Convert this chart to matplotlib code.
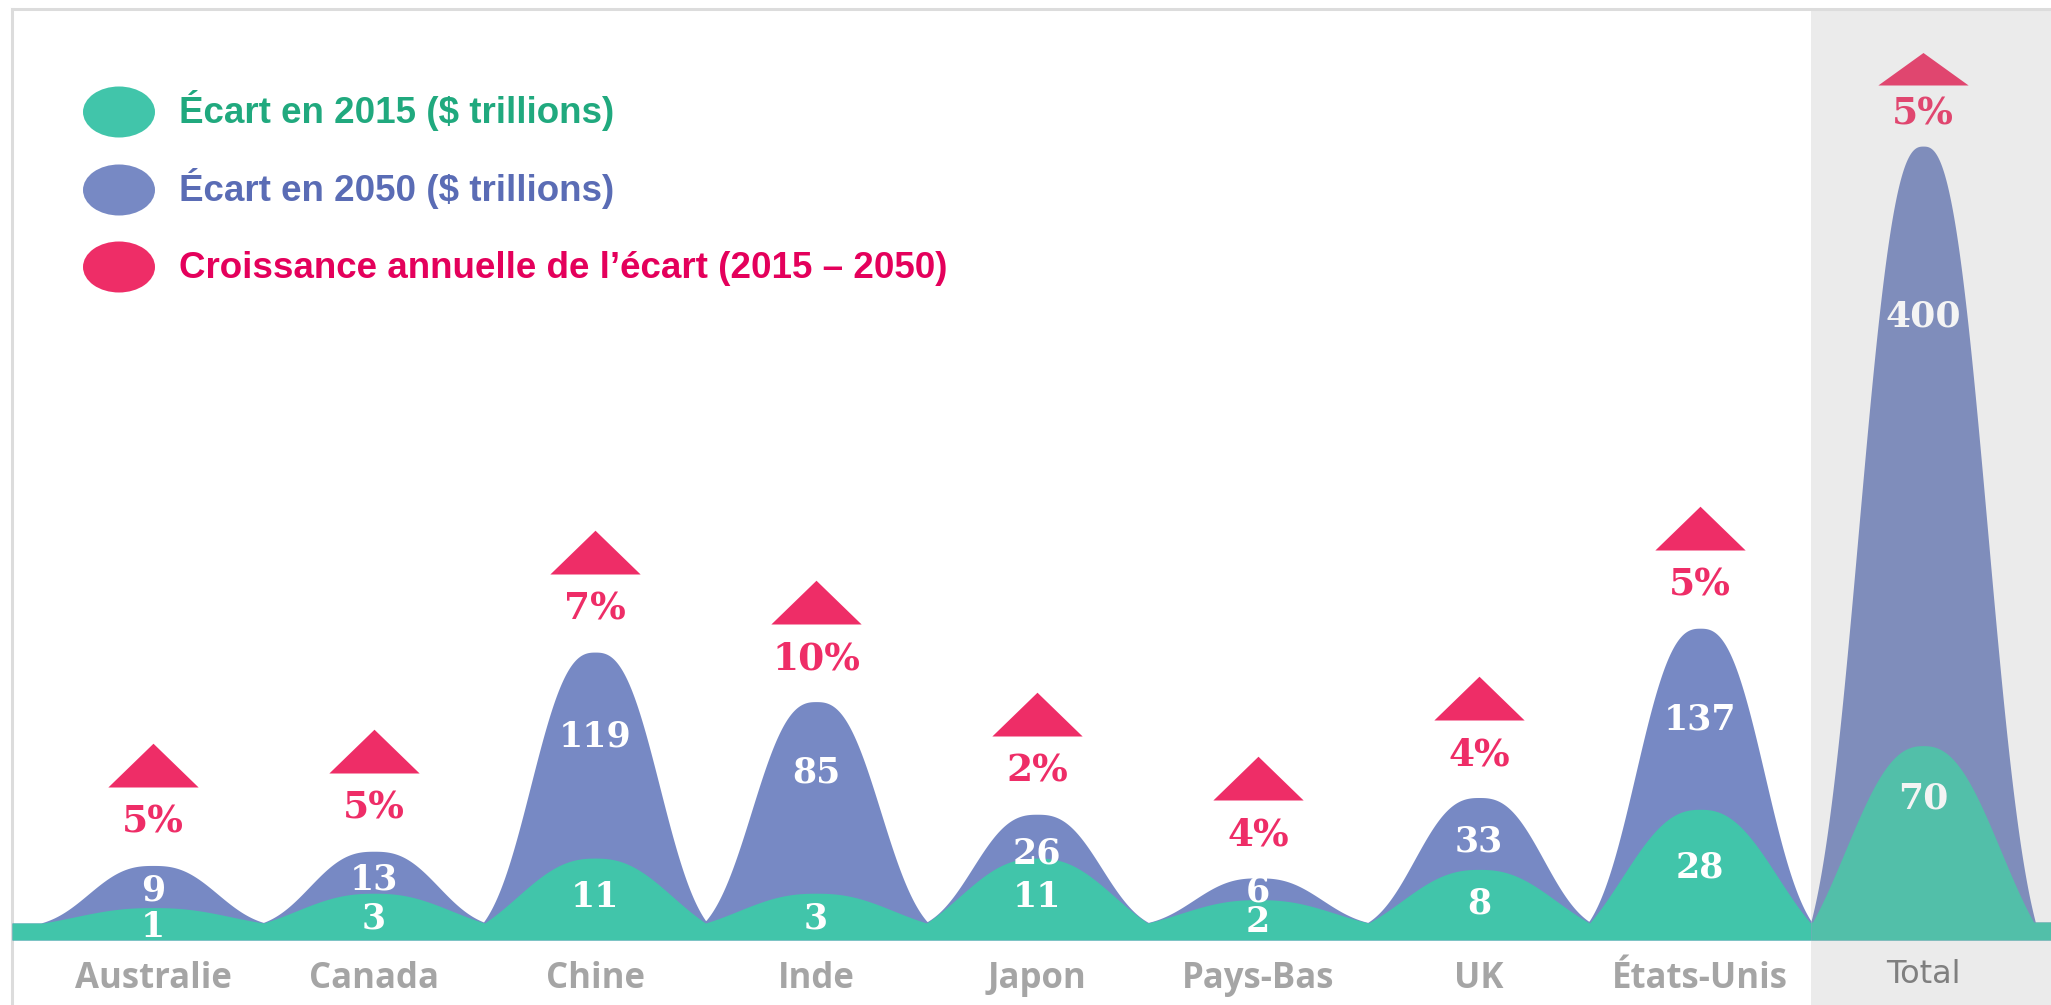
import numpy as np
import matplotlib
matplotlib.use("Agg")
import matplotlib.pyplot as plt
from matplotlib.patches import Ellipse, Rectangle
from matplotlib.lines import Line2D
from matplotlib.path import Path
from matplotlib.transforms import ScaledTranslation
from matplotlib.font_manager import FontProperties

# ---------------- data ----------------
countries = ["Australie", "Canada", "Chine", "Inde", "Japon", "Pays-Bas", "UK", "États-Unis"]
gap_2015 = [1, 3, 11, 3, 11, 2, 8, 28]          # $ trillions
gap_2050 = [9, 13, 119, 85, 26, 6, 33, 137]     # $ trillions
growth_pct = [5, 5, 7, 10, 2, 4, 4, 5]          # annual growth of gap, %

total_label = ["Total"]
total_2015 = [70]
total_2050 = [400]
total_growth = [5]

legend_labels = ["Écart en 2015 ($ trillions)",
                 "Écart en 2050 ($ trillions)",
                 "Croissance annuelle de l’écart (2015 – 2050)"]

# ---------------- style ----------------
W, H = 2051, 1005
GREEN, PURPLE, PINK = "#41C5AA", "#7789C4", "#EE2D67"
GREEN_T, PURPLE_T, PINK_T = "#52BFA9", "#7F8DBB", "#E0466F"
PANEL_GRAY = "#EBEBEB"
NUM_FONT = dict(family="DejaVu Serif", weight="bold")

fig = plt.figure(figsize=(W / 100, H / 100), dpi=100)
fig.patch.set_facecolor("white")


def power_funcs(p):
    def fwd(v):
        v = np.asarray(v, dtype=float)
        return np.sign(v) * np.abs(v) ** p

    def inv(t):
        t = np.asarray(t, dtype=float)
        return np.sign(t) * np.abs(t) ** (1.0 / p)
    return fwd, inv


def bump(x, centers, values, sigma, expo, shift, fwd, inv):
    a = shift * np.exp(-0.5 * (0.5 / sigma) ** expo)
    t = np.zeros_like(x)
    for c, v in zip(centers, values):
        g = (np.exp(-0.5 * np.abs((x - c) / sigma) ** expo) - a) / (1 - a)
        t = np.maximum(t, fwd(v) * np.clip(g, 0, None))
    return inv(t)


def draw_panel(ax, labels, v15, v50, growth, power, ylim, xlim,
               cg, cp, cpk, fp, gp, txt_off, tri_off, tri_h, num_size,
               num_color, lab_font, lab_color, lab_pad):
    fwd, inv = power_funcs(power)
    ax.set_yscale("function", functions=(fwd, inv))
    ax.set_xlim(*xlim)
    ax.set_ylim(*ylim)
    ax.patch.set_visible(False)
    for s in ax.spines.values():
        s.set_visible(False)
    centers = np.arange(len(labels))
    x = np.linspace(xlim[0], xlim[1], 3000)
    y50 = bump(x, centers, v50, 0.27, 2.6, 0.9, fwd, inv)
    y15 = bump(x, centers, v15, 0.33, 2.4, 1.0, fwd, inv)
    ax.fill_between(x, ylim[0], y50, color=cp, lw=0, zorder=2)
    ax.fill_between(x, ylim[0], y15, color=cg, lw=0, zorder=3)

    for c, a, b, g in zip(centers, v15, v50, growth):
        tb = fwd(b)
        ta = fwd(a)
        tg_lab = gp[0] * ta + gp[1]
        tp_lab = max(fp[0] * tb + fp[1], tg_lab + 2.0)
        ax.text(c, inv(tp_lab), f"{b}", ha="center", va="center",
                color=num_color, fontsize=num_size, zorder=5, **NUM_FONT)
        ax.text(c, inv(tg_lab), f"{a}", ha="center", va="center",
                color=num_color, fontsize=num_size, zorder=5, **NUM_FONT)
        ax.annotate(f"{g}%", xy=(c, b), xytext=(0, txt_off * 0.72),
                    textcoords="offset points", ha="center", va="center",
                    color=cpk, fontsize=27, zorder=6, **NUM_FONT)
        tri = Path([(-1, 0), (1, 0), (0, tri_h), (-1, 0)], closed=True)
        tr = ax.transData + ScaledTranslation(0, tri_off / 100, fig.dpi_scale_trans)
        ax.plot([c], [b], marker=tri, ms=65, mew=0, color=cpk, ls="none",
                transform=tr, clip_on=False, zorder=6)

    ax.set_yticks([])
    ax.set_xticks(centers, labels)
    ax.tick_params(axis="x", length=0, pad=lab_pad)
    for t in ax.get_xticklabels():
        t.set_va("baseline")
        t.set_fontproperties(FontProperties(**lab_font))
        t.set_color(lab_color)


# background panel + borders (figure pixel coordinates)
fig.patches.append(Rectangle((1811 / W, 0), 240 / W, 1 - 10 / H,
                             transform=fig.transFigure, facecolor=PANEL_GRAY,
                             edgecolor="none", zorder=-2))
fig.lines.append(Line2D([12 / W, 1], [1 - 9 / H, 1 - 9 / H], transform=fig.transFigure,
                        color="#DCDCDC", lw=2.2, zorder=-1))
fig.lines.append(Line2D([12 / W, 12 / W], [0, 1 - 9 / H], transform=fig.transFigure,
                        color="#DCDCDC", lw=2.2, zorder=-1))

bottom = (H - 940) / H
height = 940 / H

ax = fig.add_axes([12 / W, bottom, (1811 - 12) / W, height])
draw_panel(ax, countries, gap_2015, gap_2050, growth_pct, 0.6, (-1.18, 918),
           (-0.638, 7.502), GREEN, PURPLE, PINK, (0.72, -0.55), (0.6, -0.85),
           43, 78, 0.97, 25, "white",
           dict(family="Open Sans", weight="bold", size=25), "#A5A5A5", 34.6)

axt = fig.add_axes([1811 / W, bottom, 240 / W, height])
draw_panel(axt, total_label, total_2015, total_2050, total_growth, 0.85, (-4.77, 490),
           (-0.507, 0.579), GREEN_T, PURPLE_T, PINK_T, (0.78, 0.0), (0.70, 0.0),
           32, 61, 0.72, 26, "#F4F4F4",
           dict(family="DejaVu Sans", size=23), "#7F7F7F", 31)

# legend (overlay in pixel coordinates)
axo = fig.add_axes([0, 0, 1, 1], zorder=10)
axo.set_xlim(0, W)
axo.set_ylim(H, 0)
axo.axis("off")
leg_colors = [(GREEN, "#20A97E"), (PURPLE, "#5A6CB5"), (PINK, "#E4005B")]
leg_y = [112, 190, 267]
for (fc, tc), yy, lab in zip(leg_colors, leg_y, legend_labels):
    axo.add_patch(Ellipse((119, yy), 72, 51, facecolor=fc, edgecolor="none"))
    axo.text(179, yy + 11, lab, ha="left", va="baseline", color=tc,
             fontsize=26.5, family="Liberation Sans", weight="bold")

fig.savefig("out.png", dpi=100)
